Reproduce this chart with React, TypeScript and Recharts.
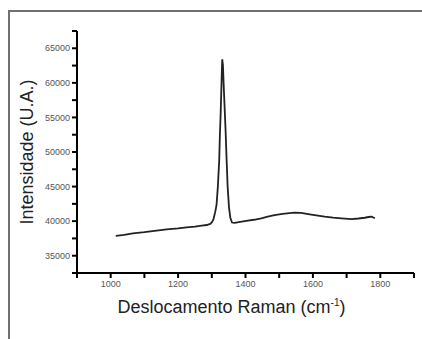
import React from 'react';
import { LineChart, Line, XAxis, YAxis } from 'recharts';

const shiftValues: number[] = [
  1015, 1040, 1066, 1100, 1130, 1166, 1200, 1225, 1250, 1270, 1285, 1295, 1300, 1305, 1310, 1314,
  1318, 1322, 1324, 1326, 1328, 1330, 1331, 1333, 1335, 1338, 1341, 1344, 1347, 1351, 1355, 1360,
  1368, 1380, 1407, 1425, 1447, 1466, 1486, 1510, 1530, 1546, 1565, 1586, 1610, 1635, 1660, 1685,
  1715, 1735, 1754, 1765, 1774, 1784,
];
const intensityValues: number[] = [
  37880, 38000, 38240, 38400, 38600, 38810, 38950, 39100, 39200, 39350, 39440, 39600, 39800, 40300, 41300, 42300,
  45000, 48800, 52500, 55100, 58500, 62000, 63400, 62600, 60000, 56500, 53000, 48800, 45000, 42000, 40500, 39800,
  39760, 39850, 40060, 40200, 40400, 40650, 40880, 41050, 41150, 41220, 41200, 41030, 40850, 40640, 40500, 40400,
  40300, 40380, 40490, 40600, 40640, 40420,
];
const xTicks: number[] = [900, 1000, 1100, 1200, 1300, 1400, 1500, 1600, 1700, 1800, 1900];
const xLabeled: number[] = [1000, 1200, 1400, 1600, 1800];
const yTicks: number[] = [32500, 35000, 37500, 40000, 42500, 45000, 47500, 50000, 52500, 55000, 57500, 60000, 62500, 65000, 67500];
const yLabeled: number[] = [35000, 40000, 45000, 50000, 55000, 60000, 65000];

const data = shiftValues.map((x, i) => ({ x, y: intensityValues[i] }));

const FONT = '"Liberation Sans", Arial, sans-serif';

const XTitle = (props: any) => {
  const vb = props.viewBox || {};
  const cx = vb.x + vb.width / 2 - 14;
  return (
    <text x={cx} y={313} textAnchor="middle" fontFamily={FONT} fontSize={18} fill="#222">
      <tspan>Deslocamento Raman (cm</tspan>
      <tspan fontSize={10} dy={-7}>-1</tspan>
      <tspan dy={7}>)</tspan>
    </text>
  );
};

const YTitle = (props: any) => {
  const vb = props.viewBox || {};
  const cy = vb.y + vb.height / 2;
  return (
    <text
      x={33}
      y={cy}
      textAnchor="middle"
      fontFamily={FONT}
      fontSize={18}
      fill="#222"
      transform={`rotate(-90, 33, ${cy})`}
    >
      Intensidade (U.A.)
    </text>
  );
};

export default function App() {
  return (
    <div style={{ position: 'absolute', left: 0, top: 0, width: 422, height: 339, background: '#fff', overflow: 'hidden' }}>
      <div
        style={{
          position: 'absolute',
          left: 8,
          top: 10,
          width: 420,
          height: 340,
          borderTop: '2px solid #707070',
          borderLeft: '2px solid #707070',
        }}
      />
      <div style={{ position: 'absolute', left: 0, top: 0 }}>
        <LineChart width={422} height={339} data={data} margin={{ top: 31, right: 8, bottom: 36, left: 17 }}>
          <XAxis
            type="number"
            dataKey="x"
            domain={[900, 1900]}
            ticks={xTicks}
            allowDataOverflow
            interval={0}
            tickFormatter={(v: number) => (xLabeled.includes(v) ? String(v) : '')}
            axisLine={{ stroke: '#000', strokeWidth: 2 }}
            tickLine={{ stroke: '#000', strokeWidth: 2 }}
            tickSize={5}
            tickMargin={3}
            tick={{ fontSize: 9, fill: '#555', fontFamily: FONT }}
            height={30}
            label={<XTitle />}
          />
          <YAxis
            type="number"
            domain={[32500, 67500]}
            ticks={yTicks}
            allowDataOverflow
            interval={0}
            tickFormatter={(v: number) => (yLabeled.includes(v) ? String(v) : '')}
            axisLine={{ stroke: '#000', strokeWidth: 2 }}
            tickLine={{ stroke: '#000', strokeWidth: 2 }}
            tickSize={5}
            tickMargin={2}
            tick={{ fontSize: 9, fill: '#555', fontFamily: FONT }}
            width={60}
            label={<YTitle />}
          />
          <Line
            type="linear"
            dataKey="y"
            stroke="#222"
            strokeWidth={1.8}
            dot={false}
            isAnimationActive={false}
          />
        </LineChart>
      </div>
    </div>
  );
}
